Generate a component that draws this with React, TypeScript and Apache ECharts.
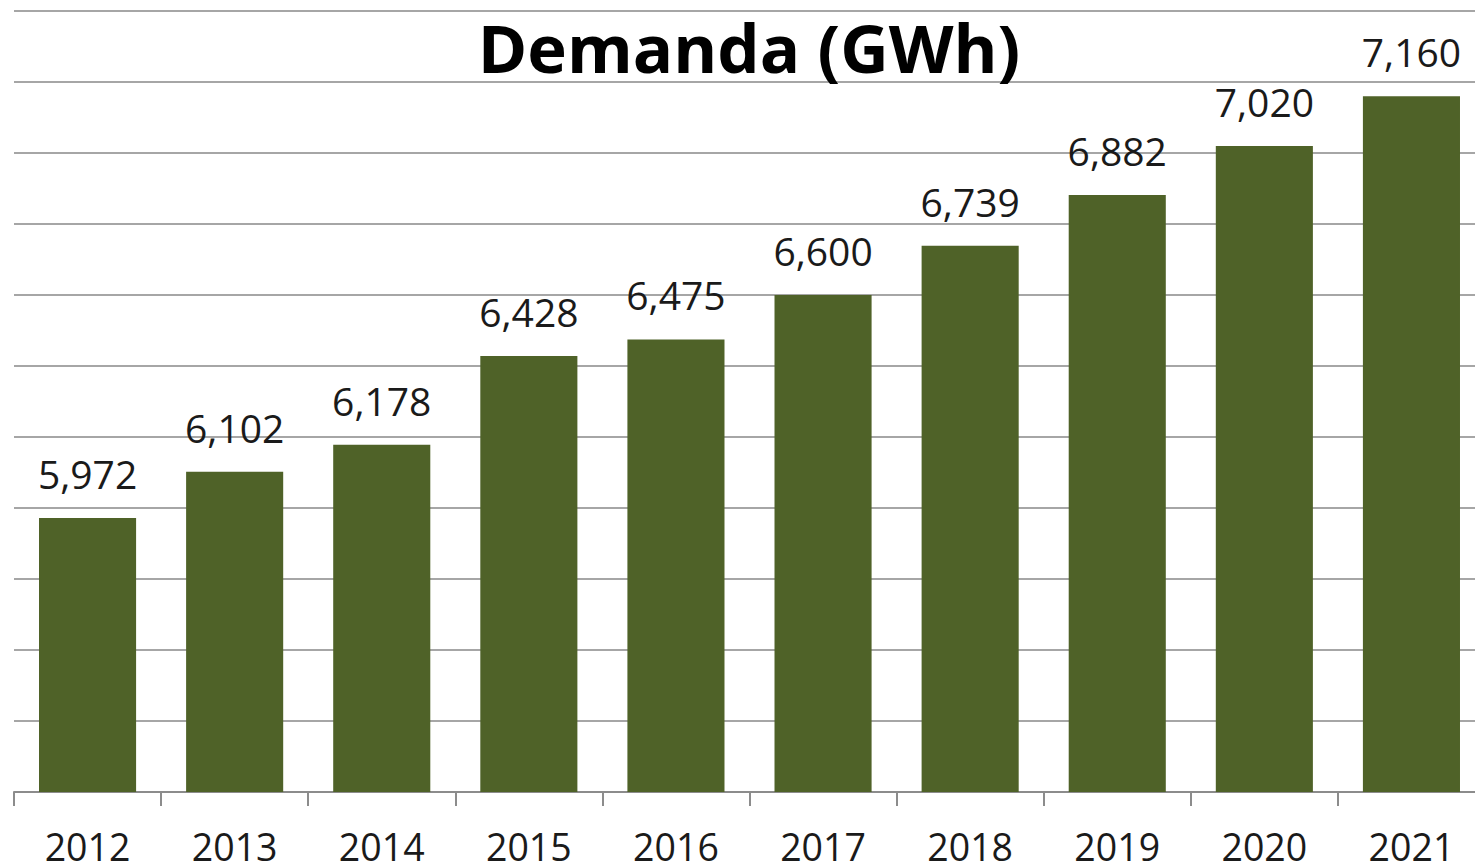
import React, { useEffect, useRef } from "react";
import * as echarts from "echarts";

const categories = ["2012", "2013", "2014", "2015", "2016", "2017", "2018", "2019", "2020", "2021"];
const demand = [5972, 6102, 6178, 6428, 6475, 6600, 6739, 6882, 7020, 7160];
const titleText = "Demanda (GWh)";

const FONT = "'Open Sans', 'Noto Sans', sans-serif";

export default function App() {
  const ref = useRef<HTMLDivElement>(null);
  useEffect(() => {
    if (!ref.current) return;
    const chart = echarts.init(ref.current, undefined, { renderer: "svg" });
    chart.setOption({
      animation: false,
      backgroundColor: "#ffffff",
      graphic: [
        {
          type: "text",
          x: 749,
          y: 47,
          style: {
            text: titleText,
            fontSize: 67,
            fontWeight: "bold",
            fontFamily: FONT,
            fill: "#000000",
            textAlign: "center",
            textVerticalAlign: "middle",
          },
          z: 10,
        },
      ],
      grid: { left: 14, top: 11, right: 10, bottom: 74, containLabel: false },
      xAxis: {
        type: "category",
        data: categories,
        axisLine: { show: true, lineStyle: { color: "#8c8c8c", width: 2 } },
        axisTick: { show: true, length: 14, alignWithLabel: false, interval: 0, lineStyle: { color: "#8c8c8c", width: 2 } },
        axisLabel: { interval: 0, fontSize: 37.5, lineHeight: 26, fontFamily: FONT, color: "#1a1a1a", margin: 41 },
      },
      yAxis: {
        type: "value",
        min: 5200,
        max: 7400,
        interval: 200,
        axisLabel: { show: false },
        axisLine: { show: false },
        axisTick: { show: false },
        splitLine: { show: true, lineStyle: { color: "#a6a6a6", width: 2 } },
      },
      series: [
        {
          type: "bar",
          data: demand,
          barWidth: "66%",
          itemStyle: { color: "#4f6228" },
          label: {
            show: true,
            position: "top",
            distance: 25,
            fontSize: 39,
            fontFamily: FONT,
            color: "#1a1a1a",
            formatter: (p: any) => Number(p.value).toLocaleString("en-US"),
          },
        },
      ],
    });
    return () => chart.dispose();
  }, []);
  return (
    <div
      style={{ position: "fixed", left: 0, top: 0, width: 1475, height: 866, overflow: "hidden", background: "#ffffff" }}
    >
      <div ref={ref} style={{ position: "absolute", left: 0, top: 0, width: 1495, height: 866 }} />
    </div>
  );
}
